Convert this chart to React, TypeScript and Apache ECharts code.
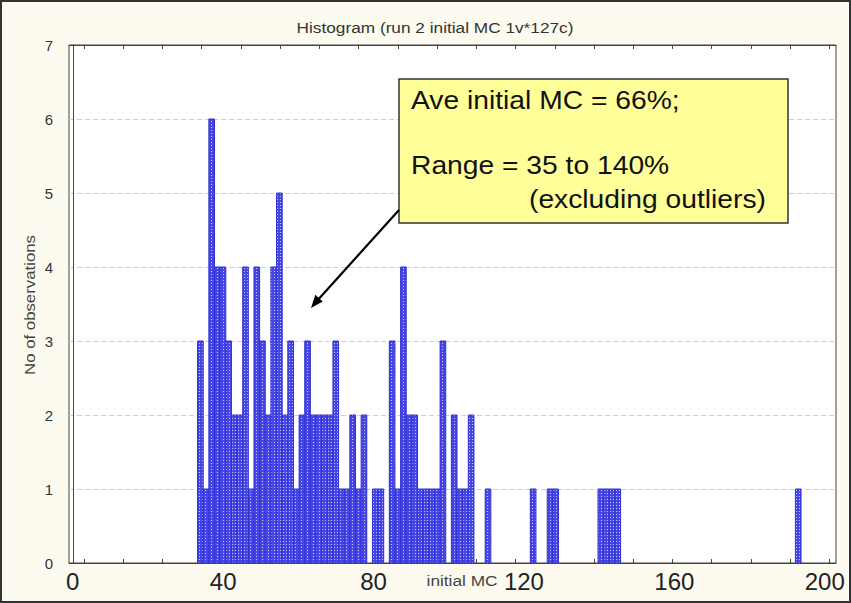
import React, { useEffect, useRef } from "react";
import * as echarts from "echarts";

const TITLE = "Histogram (run 2 initial MC 1v*127c)";
const X_NAME = "initial MC";
const Y_NAME = "No of observations";
const X_LABELS = [0, 40, 80, 120, 160, 200];
const X_TICKS = [3, 13.4, 23.9, 34.3, 44.7, 55.2, 65.6, 76, 86.5, 96.9, 107.3, 117.8, 128.2, 138.6, 149.1, 159.5, 169.9, 180.4, 190.8, 201.2];
const X_MIN = -1;
const X_MAX = 203;
const Y_MAX = 7;
const BIN_START = 33.2;
const BIN_WIDTH = 1.5;
// counts per bin
const COUNTS = [
  3, 1, 6, 4, 4, 3, 2, 2, 4, 1, 4, 3, 2, 4, 5, 2, 3, 1, 2, 3, 2, 2, 2, 2, 3, 1, 1,
  2, 1, 2, 0, 1, 1, 0, 3, 1, 4,
  2, 2, 1, 1, 1, 1, 3, 0, 2, 1, 1, 2, 0, 0, 1,
  0, 0, 0, 0, 0, 0, 0,
  1, 0, 0, 1, 1,
  0, 0, 0, 0, 0, 0, 0,
  1, 1, 1, 1,
  0, 0, 0, 0, 0, 0, 0, 0, 0, 0, 0, 0, 0, 0, 0, 0, 0, 0, 0, 0, 0, 0, 0, 0, 0, 0, 0, 0, 0, 0, 0,
  1,
];
const NOTE_LINE1 = "Ave initial MC = 66%;";
const NOTE_LINE2 = "Range = 35 to 140%";
const NOTE_LINE3 = "(excluding outliers)";

function makePattern(): string {
  const c = document.createElement("canvas");
  c.width = 3;
  c.height = 3;
  const ctx = c.getContext("2d");
  if (ctx) {
    ctx.fillStyle = "#4646e4";
    ctx.fillRect(0, 0, 3, 3);
    ctx.fillStyle = "#c4c4fb";
    ctx.fillRect(1, 1, 1, 1);
  }
  return c.toDataURL();
}

export default function App() {
  const ref = useRef<HTMLDivElement>(null);
  useEffect(() => {
    document.body.style.margin = "0";
    if (!ref.current) return;
    const chart = echarts.init(ref.current, null, { renderer: "svg" });
    const pattern = makePattern();
    const binData = COUNTS.map((c, i) => [
      BIN_START + i * BIN_WIDTH,
      BIN_START + (i + 1) * BIN_WIDTH,
      c,
    ]).filter((d) => d[2] > 0);

    const font = "Liberation Sans, Arial, sans-serif";
    const option: any = {
      animation: false,
      backgroundColor: "#fdfbef",
      grid: {
        left: 69,
        right: 15,
        top: 45,
        bottom: 40,
        show: true,
        backgroundColor: "#ffffff",
        borderColor: "#444",
        borderWidth: 1,
      },
      xAxis: [
        {
          type: "value",
          min: X_MIN,
          max: X_MAX,
          position: "bottom",
          axisLine: { show: true, lineStyle: { color: "#444" } },
          axisTick: {
            show: true,
            inside: true,
            length: 4,
            customValues: X_TICKS,
            lineStyle: { color: "#444" },
          },
          axisLabel: {
            customValues: X_LABELS,
            fontSize: 24,
            color: "#222",
            margin: 6,
            fontFamily: font,
          },
          splitLine: { show: false },
        },
        {
          type: "value",
          min: X_MIN,
          max: X_MAX,
          position: "top",
          axisLine: { show: true, lineStyle: { color: "#444" } },
          axisTick: {
            show: true,
            inside: true,
            length: 4,
            customValues: X_TICKS,
            lineStyle: { color: "#444" },
          },
          axisLabel: { show: false },
          splitLine: { show: false },
        },
      ],
      yAxis: {
        type: "value",
        min: 0,
        max: Y_MAX,
        interval: 1,
        axisLine: { show: true, lineStyle: { color: "#444" } },
        axisTick: { show: false },
        axisLabel: { fontSize: 15, color: "#333", margin: 16, fontFamily: font },
        splitLine: { show: true, lineStyle: { color: "#cfcfcf", type: [5, 3] } },
      },
      series: [
        {
          type: "custom",
          xAxisIndex: 0,
          encode: { x: [0, 1], y: 2 },
          clip: true,
          data: binData,
          renderItem: (params: any, api: any) => {
            const p0 = api.coord([api.value(0), api.value(2)]);
            const p1 = api.coord([api.value(1), 0]);
            return {
              type: "rect",
              shape: {
                x: p0[0],
                y: p0[1],
                width: p1[0] - p0[0],
                height: p1[1] - p0[1],
              },
              style: {
                fill: { image: pattern, repeat: "repeat", imageWidth: 3, imageHeight: 3 },
                stroke: "#3030d0",
                lineWidth: 1,
              },
            };
          },
        },
      ],
      graphic: [
        {
          type: "rect",
          silent: true,
          shape: { x: 1, y: 1, width: 849, height: 601 },
          style: { fill: "none", stroke: "#333", lineWidth: 2 },
          z: 100,
        },
        {
          type: "text",
          x: 435,
          y: 27,
          scaleX: 1.15,
          style: {
            text: TITLE,
            font: `15px ${font}`,
            fill: "#333",
            textAlign: "center",
            textVerticalAlign: "middle",
          },
        },
        {
          type: "text",
          x: 462,
          y: 580,
          scaleX: 1.15,
          style: {
            text: X_NAME,
            font: `15px ${font}`,
            fill: "#444",
            textAlign: "center",
            textVerticalAlign: "middle",
          },
        },
        {
          type: "text",
          x: 30,
          y: 305,
          rotation: Math.PI / 2,
          scaleX: 1.12,
          style: {
            text: Y_NAME,
            font: `15px ${font}`,
            fill: "#444",
            textAlign: "center",
            textVerticalAlign: "middle",
          },
        },
        {
          type: "rect",
          z: 50,
          shape: { x: 399, y: 79, width: 389, height: 144 },
          style: { fill: "#ffff99", stroke: "#333", lineWidth: 1.5 },
        },
        {
          type: "text",
          z: 51,
          x: 411,
          y: 101,
          scaleX: 1.13,
          style: { text: NOTE_LINE1, font: `25px ${font}`, fill: "#111", textVerticalAlign: "middle" },
        },
        {
          type: "text",
          z: 51,
          x: 411,
          y: 166,
          scaleX: 1.13,
          style: { text: NOTE_LINE2, font: `25px ${font}`, fill: "#111", textVerticalAlign: "middle" },
        },
        {
          type: "text",
          z: 51,
          x: 529,
          y: 200,
          scaleX: 1.13,
          style: { text: NOTE_LINE3, font: `25px ${font}`, fill: "#111", textVerticalAlign: "middle" },
        },
        {
          type: "line",
          z: 52,
          shape: { x1: 399, y1: 210, x2: 316, y2: 302 },
          style: { stroke: "#000", lineWidth: 2.2 },
        },
        {
          type: "polygon",
          z: 52,
          shape: { points: [[311, 308], [322.7, 301.4], [315.3, 294.8]] },
          style: { fill: "#000" },
        },
      ],
    };
    chart.setOption(option);
    return () => chart.dispose();
  }, []);
  return <div ref={ref} style={{ width: 851, height: 603 }} />;
}
